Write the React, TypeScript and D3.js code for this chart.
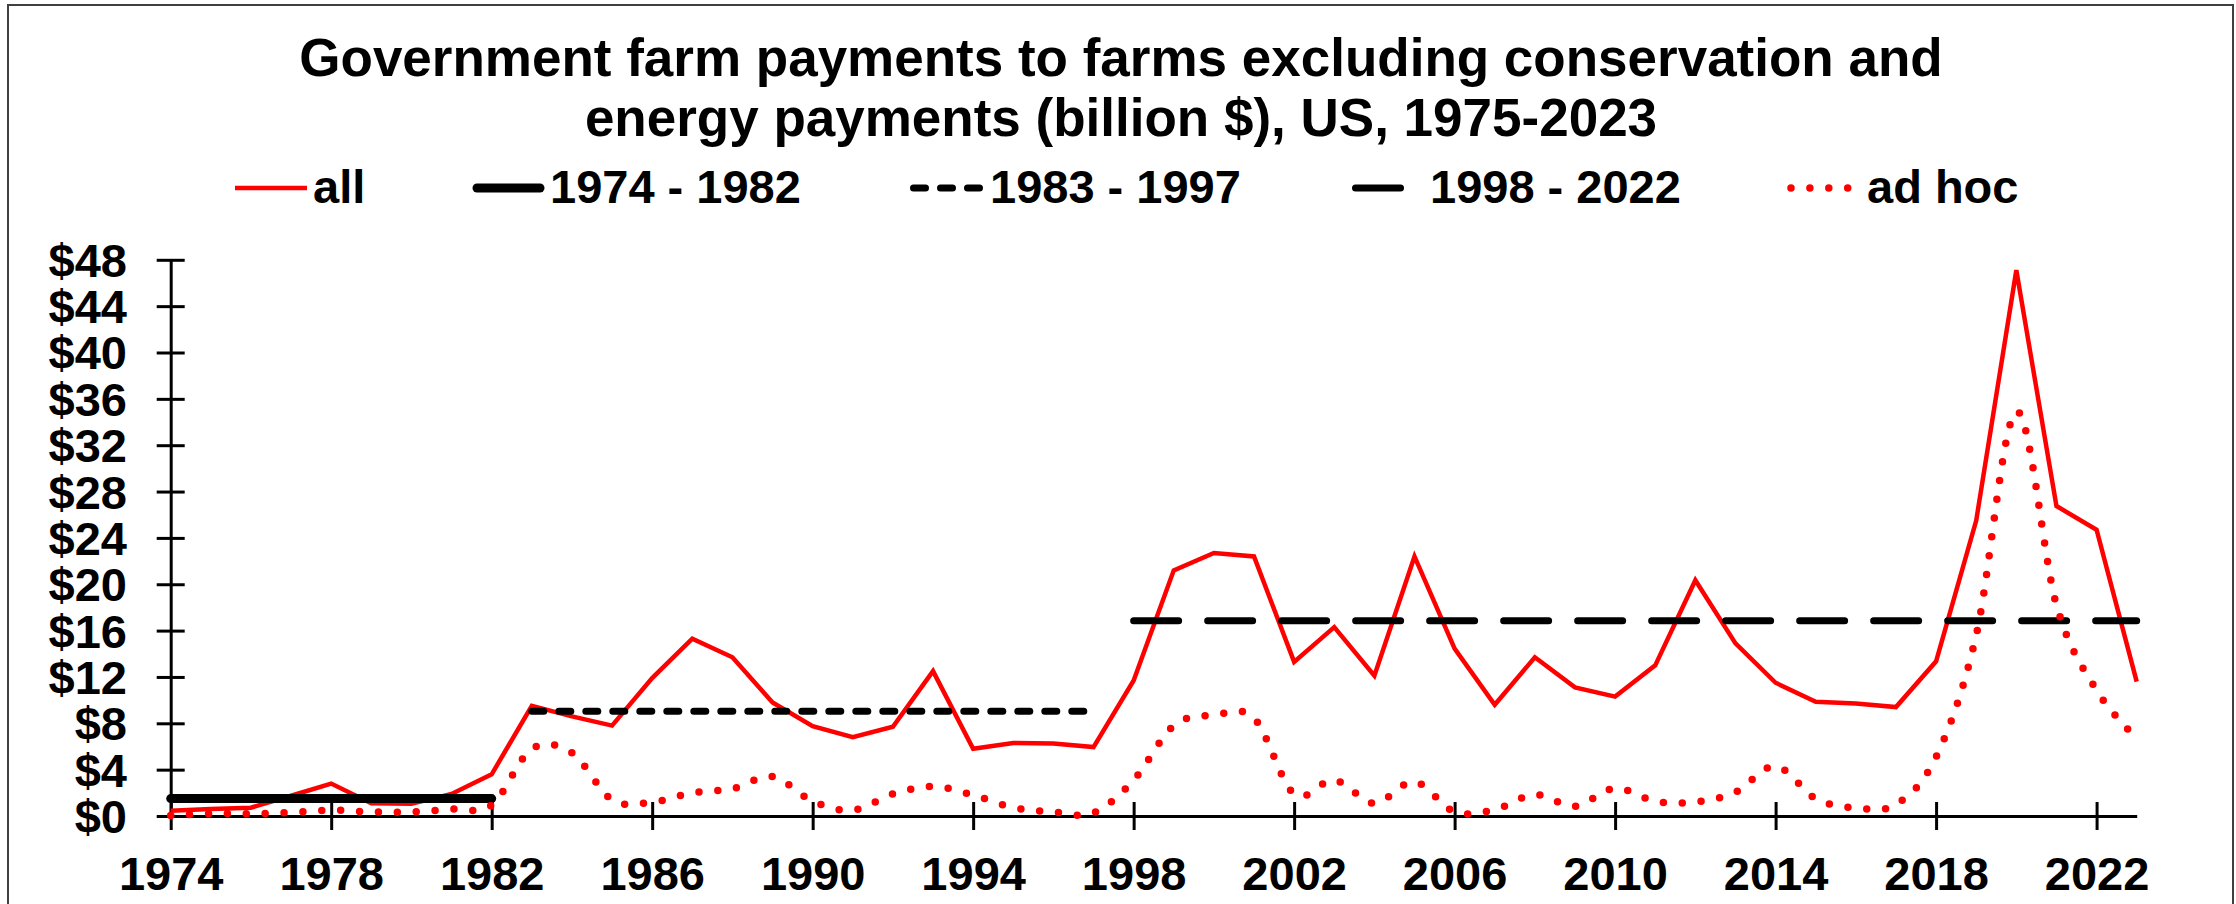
import { useEffect, useRef } from "react";
import { select, scaleLinear, line, curveCardinal, curveLinear, axisBottom, axisLeft, range } from "d3";

// data (billion $)
const years = range(1974, 2024);

const allPayments = [
    0.45, 0.6, 0.72, 1.75, 2.8, 1.1, 1.05, 1.9, 3.6, 9.5,
    8.6, 7.8, 11.9, 15.3, 13.7, 9.8, 7.75, 6.8, 7.7, 12.5,
    5.8, 6.3, 6.25, 5.95, 11.7, 21.2, 22.7, 22.4, 13.3, 16.3,
    12.1, 22.4, 14.45, 9.6, 13.7, 11.1, 10.3, 13.0, 20.35, 14.9,
    11.5, 9.85, 9.7, 9.4, 13.35, 25.5, 47.1, 26.75, 24.7, 11.6,
];

const adHocPayments = [
    0.05, 0.2, 0.2, 0.3, 0.5, 0.35, 0.35, 0.6, 0.95, 5.8,
    5.45, 1.4, 1.2, 2.0, 2.35, 3.4, 1.27, 0.5, 1.9, 2.55,
    1.8, 0.73, 0.35, 0.26, 3.1, 7.8, 8.7, 8.45, 1.9, 3.1,
    1.1, 2.95, 0.35, 0.55, 1.85, 0.84, 2.4, 1.27, 1.2, 2.07,
    4.3, 1.5, 0.7, 1.0, 5.1, 15.6, 34.9, 18.2, 10.85, 6.7,
];

// period averages: label, first year, last year drawn, value
const periodLabels = ["1974 - 1982", "1983 - 1997", "1998 - 2022"];
const periodStart = [1974, 1983, 1998];
const periodEnd = [1982, 1997, 2023];
const periodValue = [1.5, 9.05, 16.85];

const yTicks = range(0, 52, 4);
const xTicks = range(1974, 2023, 4);

const titleLines = [
    "Government farm payments to farms excluding conservation and",
    "energy payments (billion $), US, 1975-2023",
];

const FONT = "'Liberation Sans', Arial, sans-serif";
const RED = "#FF0000";

// stroke styles: all, 1974-1982, 1983-1997, 1998-2022, ad hoc
const styles = [
    { color: RED, width: 4.5, dash: null as string | null, cap: "butt" },
    { color: "#000", width: 9, dash: null, cap: "round" },
    { color: "#000", width: 7, dash: "12 15", cap: "round" },
    { color: "#000", width: 7, dash: "45 29", cap: "round" },
    { color: RED, width: 7.5, dash: "0 18.9", cap: "round" },
];

export default function App() {
    const svgRef = useRef<SVGSVGElement>(null);

    useEffect(() => {
        const width = 2236;
        const height = 904;
        const svg = select(svgRef.current);
        svg.selectAll("*").remove();

        svg.append("rect").attr("width", width).attr("height", height).attr("fill", "#fff");

        // chart area border (bottom edge runs off the image)
        svg.append("rect")
            .attr("x", 8).attr("y", 5)
            .attr("width", 2225).attr("height", 930)
            .attr("fill", "none").attr("stroke", "#404040").attr("stroke-width", 2);

        const x = scaleLinear().domain([1974, 2023]).range([170.7, 2136.7]);
        const y = scaleLinear().domain([0, 48]).range([816, 259.8]);

        // title
        svg.append("g")
            .selectAll("text")
            .data(titleLines)
            .join("text")
            .attr("x", 1121)
            .attr("y", (_, i) => 76 + i * 60)
            .attr("text-anchor", "middle")
            .attr("font-family", FONT)
            .attr("font-weight", "bold")
            .attr("font-size", 53)
            .text((d) => d);

        // legend
        const legendLabels = ["all", ...periodLabels, "ad hoc"];
        const legendSym = [[235, 307], [477, 540], [913.5, 979.5], [1355.5, 1428], [1791, 1850]];
        const legendText = [313, 550, 990, 1430, 1867];
        const legend = svg.append("g");
        legendLabels.forEach((lbl, i) => {
            const st = styles[i];
            legend.append("line")
                .attr("x1", legendSym[i][0]).attr("x2", legendSym[i][1])
                .attr("y1", 188).attr("y2", 188)
                .attr("stroke", st.color)
                .attr("stroke-width", st.width)
                .attr("stroke-linecap", st.cap)
                .attr("stroke-dasharray", st.dash);
            legend.append("text")
                .attr("x", legendText[i]).attr("y", 203)
                .attr("font-family", FONT).attr("font-weight", "bold").attr("font-size", 47)
                .text(lbl);
        });

        // axes
        const yAxis = svg.append("g")
            .attr("transform", `translate(${x(1974)},0)`)
            .call(axisLeft(y).tickValues(yTicks).tickSizeOuter(0).tickSizeInner(14).tickFormat((d) => `$${d}`));
        yAxis.selectAll("line").attr("x1", 14).attr("stroke", "#000").attr("stroke-width", 3);
        yAxis.select(".domain").attr("stroke", "#000").attr("stroke-width", 3);
        yAxis.selectAll("text")
            .attr("x", -43.7).attr("dy", "0.35em")
            .attr("font-family", FONT).attr("font-weight", "bold").attr("font-size", 47).attr("fill", "#000");

        const xAxis = svg.append("g")
            .attr("transform", `translate(0,${y(0)})`)
            .call(axisBottom(x).tickValues(xTicks).tickSizeOuter(0).tickSizeInner(14).tickFormat((d) => `${d}`));
        xAxis.selectAll("line").attr("y1", -14).attr("stroke", "#000").attr("stroke-width", 3);
        xAxis.select(".domain").attr("stroke", "#000").attr("stroke-width", 3);
        xAxis.selectAll("text")
            .attr("y", 74).attr("dy", 0)
            .attr("font-family", FONT).attr("font-weight", "bold").attr("font-size", 47).attr("fill", "#000");
        svg.selectAll(".tick text").attr("font-family", FONT);
        yAxis.attr("font-size", null).attr("font-family", null);
        xAxis.attr("font-size", null).attr("font-family", null);

        // all payments
        const lineGen = line<number>()
            .x((_, i) => x(years[i]))
            .y((d) => y(d))
            .curve(curveLinear);

        svg.append("path")
            .datum(allPayments)
            .attr("fill", "none")
            .attr("stroke", styles[0].color)
            .attr("stroke-width", styles[0].width)
            .attr("stroke-linejoin", "miter")
            .attr("d", lineGen);

        // period averages
        periodValue.forEach((v, i) => {
            const st = styles[i + 1];
            const seg = line<number>().x((d) => x(d)).y(() => y(v));
            svg.append("path")
                .datum([periodStart[i], periodEnd[i]])
                .attr("fill", "none")
                .attr("stroke", st.color)
                .attr("stroke-width", st.width)
                .attr("stroke-linecap", st.cap)
                .attr("stroke-dasharray", st.dash)
                .attr("d", seg);
        });

        // ad hoc, smoothed dotted line
        const smoothGen = line<number>()
            .x((_, i) => x(years[i]))
            .y((d) => y(d))
            .curve(curveCardinal.tension(0));

        svg.append("path")
            .datum(adHocPayments)
            .attr("fill", "none")
            .attr("stroke", styles[4].color)
            .attr("stroke-width", styles[4].width)
            .attr("stroke-linecap", "round")
            .attr("stroke-dasharray", styles[4].dash)
            .attr("d", smoothGen);
    }, []);

    return (
        <div style={{ position: "absolute", left: 0, top: 0 }}>
            <svg ref={svgRef} width={2236} height={904} style={{ display: "block" }} />
        </div>
    );
}
